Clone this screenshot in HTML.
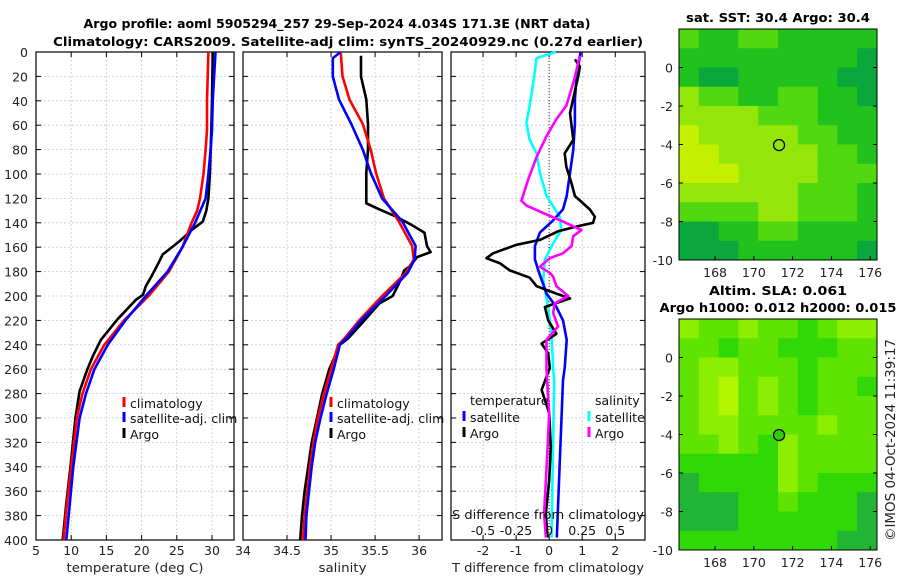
<!DOCTYPE html>
<html><head><meta charset="utf-8"><style>
html,body{margin:0;padding:0;background:#fff;}
svg{display:block;font-family:"DejaVu Sans","Liberation Sans",sans-serif;}
</style></head><body>
<svg id="c" width="900" height="580" viewBox="0 0 900 580" xmlns="http://www.w3.org/2000/svg">
<g font-weight="bold" font-size="12.5" text-anchor="middle" fill="#000">
<text x="337" y="28" textLength="507" lengthAdjust="spacingAndGlyphs">Argo profile: aoml 5905294_257 29-Sep-2024 4.034S 171.3E (NRT data)</text>
<text x="348" y="46" textLength="590" lengthAdjust="spacingAndGlyphs">Climatology: CARS2009. Satellite-adj clim: synTS_20240929.nc (0.27d earlier)</text>
</g>
<g id="maps"></g>
<g id="panels"></g>
<text x="0" y="0" transform="translate(895,440) rotate(-90)" text-anchor="middle" font-size="13" textLength="202" lengthAdjust="spacingAndGlyphs" fill="#222">©IMOS 04-Oct-2024 11:39:17</text>
</svg>
<script>
// ---------- DATA ----------
const depthTicks=[0,20,40,60,80,100,120,140,160,180,200,220,240,260,280,300,320,340,360,380,400];
const tTicks=[5,10,15,20,25,30];
const sTicks=[34,34.5,35,35.5,36];
const dTTicks=[-2,-1,0,1,2];
const dSTicks=[-0.5,-0.25,0,0.25,0.5];
const dSTickLabels=["-0.5","-0.25","0","0.25","0.5"];

const tClimDepth=[0,40,64,80,100,120,130,140,160,180,200,220,240,260,280,300,340,370,400];
const tClim=[29.5,29.3,29.3,29.1,28.8,28.3,27.9,27.1,25.8,23.9,21.0,17.5,14.7,12.8,11.6,10.8,10.0,9.4,8.9];
const tSatDepth=[0,40,64,80,100,120,140,160,180,200,220,240,260,280,300,340,370,400];
const tSat=[30.5,30.1,30.0,29.8,29.5,29.1,27.6,25.8,23.7,20.6,17.7,15.2,13.3,12.1,11.2,10.3,9.8,9.3];
const tArgoDepth=[0,40,64,100,120,130,139,145,155,166,174,184,192,199,203,219,236,249,260,278,300,340,370,400];
const tArgo=[30.1,30.0,29.9,29.7,29.5,29.2,28.7,27.3,25.4,23.0,22.3,21.4,20.6,20.2,19.2,16.6,14.2,13.1,12.3,11.2,10.6,9.9,9.3,8.8];

const sClimDepth=[0,20,39,59,80,99,120,139,159,170,181,200,220,235,240,260,280,300,320,340,360,380,400];
const sClim=[35.11,35.13,35.21,35.36,35.45,35.51,35.60,35.77,35.92,35.94,35.85,35.58,35.32,35.15,35.08,35.0,34.92,34.85,34.8,34.76,34.73,34.7,34.68];
const sSatDepth=[0,5,20,39,59,80,99,120,139,159,170,181,200,220,235,240,260,280,300,320,340,360,380,400];
const sSat=[35.11,35.02,35.02,35.09,35.23,35.36,35.45,35.58,35.81,35.96,35.95,35.87,35.62,35.34,35.17,35.1,35.03,34.95,34.88,34.82,34.78,34.75,34.72,34.71];
const sArgoDepth=[3,20,39,59,80,99,120,124,129,135,142,148,159,164,168,176,179,187,200,206,220,235,240,260,280,300,320,340,360,380,400];
const sArgo=[35.34,35.34,35.40,35.42,35.42,35.40,35.40,35.40,35.55,35.74,35.92,36.06,36.09,36.13,35.98,35.89,35.83,35.79,35.70,35.55,35.38,35.19,35.1,34.98,34.9,34.84,34.78,34.74,34.7,34.67,34.65];

const dTSatDepth=[0,20,39,59,80,99,118,129,138,148,159,170,179,198,209,220,236,259,269,398];
const dTSat=[0.95,0.83,0.78,0.78,0.73,0.63,0.53,0.42,0.12,-0.28,-0.43,-0.43,-0.33,-0.08,0.22,0.42,0.53,0.47,0.42,0.23];
const dTArgoDepth=[6,12,20,50,72,83,94,107,118,129,135,140,143,147,154,158,165,169,173,179,185,192,198,202,209,220,231,239,247,259,277,296,324,351,378,398];
const dTArgo=[0.78,0.93,0.88,0.63,0.73,0.47,0.52,0.67,0.78,1.23,1.38,1.33,0.83,0.27,-0.28,-0.99,-1.7,-1.9,-1.5,-1.19,-0.59,-0.38,0.22,0.63,-0.13,-0.03,0.22,-0.23,-0.03,0.02,-0.23,0.0,0.05,0.0,-0.1,-0.05];
const dSSatDepth=[0,5,25,44,58,72,83,99,118,135,146,157,170,187,209,231,259,269,398];
const dSSat=[0.05,-0.095,-0.12,-0.148,-0.172,-0.148,-0.095,-0.07,-0.02,0.08,0.092,0.03,-0.032,-0.045,-0.008,0.018,0.03,0.038,0.018];
const dSArgoDepth=[3,22,44,55,69,86,105,122,126,132,139,146,151,159,165,169,176,181,184,192,200,206,214,225,236,247,259,277,296,324,351,378,398];
const dSArgo=[0.232,0.192,0.13,0.055,-0.02,-0.095,-0.16,-0.21,-0.17,-0.045,0.105,0.245,0.182,0.17,0.105,0.005,-0.07,0.005,0.03,0.055,0.145,0.042,0.03,0.068,-0.02,-0.02,-0.02,-0.012,0.0,-0.012,-0.025,-0.038,-0.025];

const mapLonTicks=[168,170,172,174,176];
const mapLatTicks=[0,-2,-4,-6,-8,-10];
const sstGrid=[
[2,1,1,2,2,1,1,1,1,1],[1,1,1,1,1,1,1,1,1,0],[1,0,0,1,1,1,1,1,0,0],[3,2,2,1,1,2,2,1,1,0],
[3,3,3,3,2,2,2,1,1,1],[4,3,3,3,3,3,2,2,1,1],[4,4,3,3,3,3,3,2,2,1],[4,4,4,3,3,3,3,2,2,2],
[3,3,3,3,3,3,2,2,2,1],[2,2,2,2,3,3,2,2,2,1],[0,0,1,1,2,2,1,1,1,1],[0,0,0,1,1,1,1,1,1,0]];
const slaGrid=[
[3,2,2,3,2,2,1,2,3,3],[2,2,1,2,2,1,1,1,2,2],[2,3,3,2,2,2,1,2,2,2],[2,3,4,2,3,2,1,2,2,1],
[2,3,4,2,3,2,1,2,2,2],[2,3,3,2,2,2,2,3,2,2],[2,2,3,2,1,3,2,2,2,2],[1,1,1,1,1,3,2,2,2,2],
[0,1,1,1,1,3,2,1,1,1],[0,0,0,1,1,2,1,1,1,0],[0,0,0,1,1,1,1,1,1,0],[1,1,1,1,1,1,1,1,0,0]];
const argoLon=171.3, argoLat=-4.03;

// ---------- HELPERS ----------
const NS="http://www.w3.org/2000/svg";
function mk(tag,attrs,parent,txt){const e=document.createElementNS(NS,tag);for(const k in attrs)e.setAttribute(k,attrs[k]);if(txt!==undefined)e.textContent=txt;parent.appendChild(e);return e;}
const panels=document.getElementById('panels');
const Y0=52,Y1=540;
const yD=d=>Y0+d/400*(Y1-Y0);
const grid="#c4c8e4";
const FS=12.5;

function panel(name,x0,x1,xmin,xmax,ticks,labels,xlabel,xlabelLen,showY){
  const g=mk('g',{},panels);
  
  
  const sx=v=>x0+(v-xmin)/(xmax-xmin)*(x1-x0);
  depthTicks.forEach(d=>{if(d>0&&d<400){const l=mk('line',{x1:x0,x2:x1,y1:yD(d),y2:yD(d),stroke:grid,'stroke-width':0.8,'stroke-dasharray':'2,2'},g);}});
  ticks.forEach(t=>{const px=sx(t);if(px>x0+1&&px<x1-1){const l=mk('line',{x1:px,x2:px,y1:Y0,y2:Y1,stroke:grid,'stroke-width':0.8,'stroke-dasharray':'2,2'},g);}});
  const r=mk('rect',{x:x0,y:Y0,width:x1-x0,height:Y1-Y0,fill:'none',stroke:'#000','stroke-width':1.2},g);
  
  depthTicks.forEach(d=>{mk('line',{x1:x0,x2:x0+5,y1:yD(d),y2:yD(d),stroke:'#000'},g);mk('line',{x1:x1-5,x2:x1,y1:yD(d),y2:yD(d),stroke:'#000'},g);
    if(showY){const t=mk('text',{x:28,y:yD(d)+5,'text-anchor':'end','font-size':FS,fill:'#222'},g,String(d));}});
  ticks.forEach((t,i)=>{const px=sx(t);mk('line',{x1:px,x2:px,y1:Y1,y2:Y1-5,stroke:'#000'},g);mk('line',{x1:px,x2:px,y1:Y0,y2:Y0+5,stroke:'#000'},g);
    const tl=mk('text',{x:px,y:555,'text-anchor':'middle','font-size':FS,fill:'#222'},g,labels[i]);});
  const xl=mk('text',{x:(x0+x1)/2,y:572,'text-anchor':'middle','font-size':FS,fill:'#222',textLength:xlabelLen,lengthAdjust:'spacingAndGlyphs'},g,xlabel);
  
  return {g,sx};
}
function line(p,depths,vals,color,name,w){
  const pts=depths.map((d,i)=>p.sx(vals[i]).toFixed(1)+','+yD(d).toFixed(1)).join(' ');
  const l=mk('polyline',{points:pts,fill:'none',stroke:color,'stroke-width':w||2.6,'stroke-linejoin':'round'},p.g);
  
}
function legend(g,x,y,color,label){
  const m=mk('rect',{x:x-1.5,y:y-11,width:3,height:10,fill:color},g);
  
  const t=mk('text',{x:x+6,y:y,'font-size':FS,fill:'#111'},g,label);
  
}

const p1=panel('temperature-panel',36,234,5,33.13,tTicks,tTicks.map(String),'temperature (deg C)',137,true);
line(p1,tArgoDepth,tArgo,'#000','argo-temperature-line');
line(p1,tClimDepth,tClim,'#ff0000','climatology-temperature-line');
line(p1,tSatDepth,tSat,'#0000ff','satellite-temperature-line');
legend(p1.g,124,408,'#ff0000','climatology');
legend(p1.g,124,423,'#0000ff','satellite-adj. clim');
legend(p1.g,124,439,'#000','Argo');

const p2=panel('salinity-panel',243,442,34,36.26,sTicks,sTicks.map(String),'salinity',48,false);
line(p2,sArgoDepth,sArgo,'#000','argo-salinity-line');
line(p2,sClimDepth,sClim,'#ff0000','climatology-salinity-line');
line(p2,sSatDepth,sSat,'#0000ff','satellite-salinity-line');
legend(p2.g,331,408,'#ff0000','climatology');
legend(p2.g,331,423,'#0000ff','satellite-adj. clim');
legend(p2.g,331,439,'#000','Argo');

const p3=panel('difference-panel',451,645,-2.97,2.9,dTTicks,dTTicks.map(String),'T difference from climatology',192,false);
const zl=mk('line',{x1:p3.sx(0),x2:p3.sx(0),y1:Y0,y2:Y1,stroke:'#333','stroke-width':1,'stroke-dasharray':'1,2'},p3.g);

const sScaled=a=>a.map(v=>v*4);
line(p3,dSSatDepth,sScaled(dSSat),'#00ffff','satellite-salinity-diff-line');
line(p3,dTSatDepth,dTSat,'#0000ff','satellite-temperature-diff-line');
line(p3,dTArgoDepth,dTArgo,'#000','argo-temperature-diff-line');
line(p3,dSArgoDepth,sScaled(dSArgo),'#ff00ff','argo-salinity-diff-line');
const lt=mk('text',{x:470,y:405,'font-size':FS,fill:'#111'},p3.g,'temperature');
const ls=mk('text',{x:595,y:405,'font-size':FS,fill:'#111'},p3.g,'salinity');
legend(p3.g,464,422,'#0000ff','satellite');
legend(p3.g,464,438,'#000','Argo');
legend(p3.g,589,422,'#00ffff','satellite');
legend(p3.g,589,438,'#ff00ff','Argo');
const st=mk('text',{x:548,y:519,'text-anchor':'middle','font-size':FS,fill:'#111',textLength:192,lengthAdjust:'spacingAndGlyphs'},p3.g,'S difference from climatology');

dSTicks.forEach((v,i)=>{const t=mk('text',{x:p3.sx(v*4),y:535,'text-anchor':'middle','font-size':FS,fill:'#111'},p3.g,dSTickLabels[i]);});

// ---------- MAPS ----------
const maps=document.getElementById('maps');
const MX0=679,MX1=877,LON0=166.14,LON1=176.35,LAT0=2.0,LAT1=-10.0;
function mapPanel(name,y0,y1,gridData,pal,title,lens,dotFill){
  const g=mk('g',{},maps);
  
  
  const sx=lon=>MX0+(lon-LON0)/(LON1-LON0)*(MX1-MX0);
  const sy=lat=>y0+(LAT0-lat)/(LAT0-LAT1)*(y1-y0);
  const rows=gridData.length,cols=gridData[0].length;
  const cw=(MX1-MX0)/cols,ch=(y1-y0)/rows;
  gridData.forEach((row,r)=>row.forEach((v,c)=>{const e=mk('rect',{x:MX0+c*cw,y:y0+r*ch,width:cw+0.5,height:ch+0.5,fill:pal[v]},g);}));
  const f=mk('rect',{x:MX0,y:y0,width:MX1-MX0,height:y1-y0,fill:'none',stroke:'#000','stroke-width':1},g);
  
  mapLonTicks.forEach(l=>{mk('line',{x1:sx(l),x2:sx(l),y1:y1,y2:y1-4,stroke:'#000'},g);
    const t=mk('text',{x:sx(l),y:y1+17,'text-anchor':'middle','font-size':FS,fill:'#222'},g,String(l));});
  mapLatTicks.forEach(l=>{mk('line',{x1:MX0,x2:MX0+4,y1:sy(l),y2:sy(l),stroke:'#000'},g);mk('line',{x1:MX1-4,x2:MX1,y1:sy(l),y2:sy(l),stroke:'#000'},g);
    const t=mk('text',{x:673,y:sy(l)+5,'text-anchor':'end','font-size':FS,fill:'#222'},g,String(l));});
  const c=mk('circle',{cx:sx(argoLon),cy:sy(argoLat),r:5.5,fill:dotFill,stroke:'#000','stroke-width':1.3},g);
  
  title.forEach((tx,i)=>{const t=mk('text',{x:778,y:y0-(title.length-1-i)*17-7,'text-anchor':'middle','font-size':12.5,'font-weight':'bold',fill:'#000',textLength:lens[i],lengthAdjust:'spacingAndGlyphs'},g,tx);});
}
mapPanel('sst-map',29,260,sstGrid,['#0aa83c','#22c21e','#52d810','#94e60a','#c4f000'],['sat. SST: 30.4 Argo: 30.4'],[184],'none');
mapPanel('sla-map',319,550,slaGrid,['#22b434','#30d808','#5ee400','#8cee00','#b4f600'],['Altim. SLA: 0.061','Argo h1000: 0.012 h2000: 0.015'],[138,237],'#30d010');
</script>
</body></html>
